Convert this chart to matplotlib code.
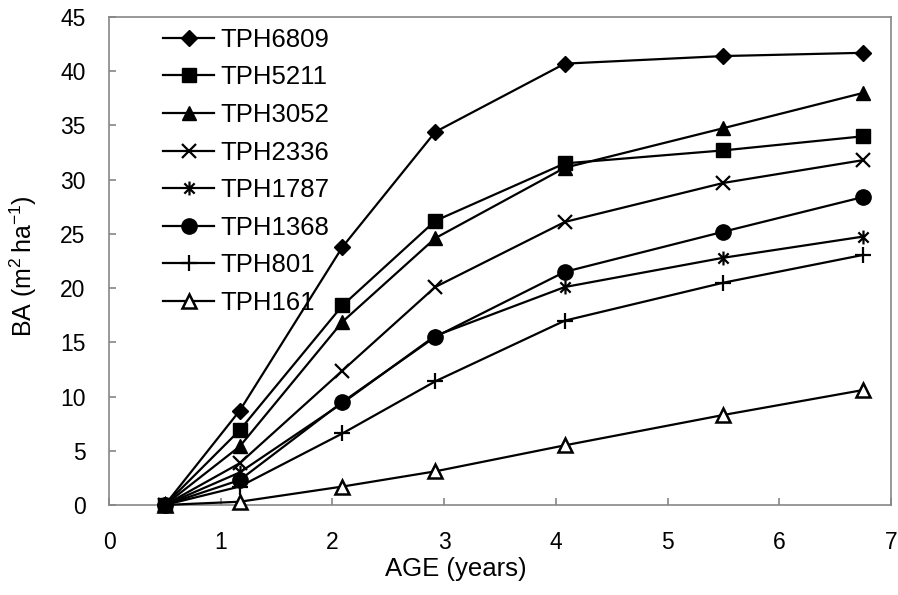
import matplotlib
matplotlib.use("Agg")
import matplotlib.pyplot as plt
from matplotlib.path import Path

# font (Arial-like)
plt.rcParams['font.family'] = ['Liberation Sans', 'DejaVu Sans']
plt.rcParams['mathtext.fontset'] = 'custom'
plt.rcParams['mathtext.rm'] = 'Liberation Sans'
plt.rcParams['mathtext.default'] = 'regular'

# data
age = [0.5, 1.17, 2.09, 2.92, 4.08, 5.5, 6.75]
tph6809 = [0, 8.7, 23.8, 34.4, 40.7, 41.4, 41.7]
tph5211 = [0, 6.9, 18.4, 26.2, 31.5, 32.7, 34.0]
tph3052 = [0, 5.4, 16.9, 24.6, 31.1, 34.75, 38.0]
tph2336 = [0, 3.85, 12.4, 20.1, 26.1, 29.7, 31.8]
tph1787 = [0, 3.0, 9.4, 15.6, 20.1, 22.8, 24.75]
tph1368 = [0, 2.3, 9.5, 15.5, 21.5, 25.2, 28.4]
tph801 = [0, 1.7, 6.6, 11.4, 17.0, 20.5, 23.06]
tph161 = [0, 0.3, 1.7, 3.1, 5.5, 8.3, 10.6]

names = ['TPH6809', 'TPH5211', 'TPH3052', 'TPH2336', 'TPH1787', 'TPH1368', 'TPH801', 'TPH161']
series = [tph6809, tph5211, tph3052, tph2336, tph1787, tph1368, tph801, tph161]

# asterisk marker like Excel's (x plus vertical bar)
star = Path([(-1, -1), (1, 1), (-1, 1), (1, -1), (0, -1.35), (0, 1.35)],
            [Path.MOVETO, Path.LINETO, Path.MOVETO, Path.LINETO, Path.MOVETO, Path.LINETO])

styles = [
    dict(marker='D', ms=8, mfc='black'),
    dict(marker='s', ms=10.5, mfc='black'),
    dict(marker='^', ms=10.5, mfc='black'),
    dict(marker='x', ms=9.5, mew=1.6),
    dict(marker=star, ms=10, mew=1.6),
    dict(marker='o', ms=11, mfc='black'),
    dict(marker='+', ms=11.5, mew=1.6),
    dict(marker='^', ms=10, mfc='white', mew=1.8),
]

fig = plt.figure(figsize=(8.98, 5.95), dpi=100)
ax = fig.add_axes([0.1214, 0.1513, 0.8708, 0.8201])

# first series drawn on top, as in the original
for i, (name, vals, st) in enumerate(zip(names, series, styles)):
    ax.plot(age, vals, color='black', lw=1.6, mec='black', label=name,
            zorder=20 - i, clip_on=False, **st)

ax.set_xlim(0, 7)
ax.set_ylim(0, 45)
ax.set_xticks(range(0, 8))
ax.set_yticks(range(0, 46, 5))

for s in ax.spines.values():
    s.set_color('#868686')
    s.set_linewidth(1.2)
ax.tick_params(direction='in', length=5, width=1.2, color='#868686', labelsize=16.5)
ax.tick_params(axis='x', pad=19)
ax.tick_params(axis='y', pad=17)

ax.set_xlabel('AGE (years)', fontsize=18.5)
ax.xaxis.set_label_coords(0.444, -0.106)
ax.set_ylabel(r'BA (m$^{2}\,$ha$^{-1}$)', fontsize=18)
ax.yaxis.set_label_coords(-0.09, 0.49)

ax.legend(loc='upper left', bbox_to_anchor=(0.069, 0.978), frameon=False,
          fontsize=18.5, handlelength=2.0, handletextpad=0.25, labelspacing=0.53,
          borderpad=0, borderaxespad=0)

fig.savefig('out.png', dpi=100)
